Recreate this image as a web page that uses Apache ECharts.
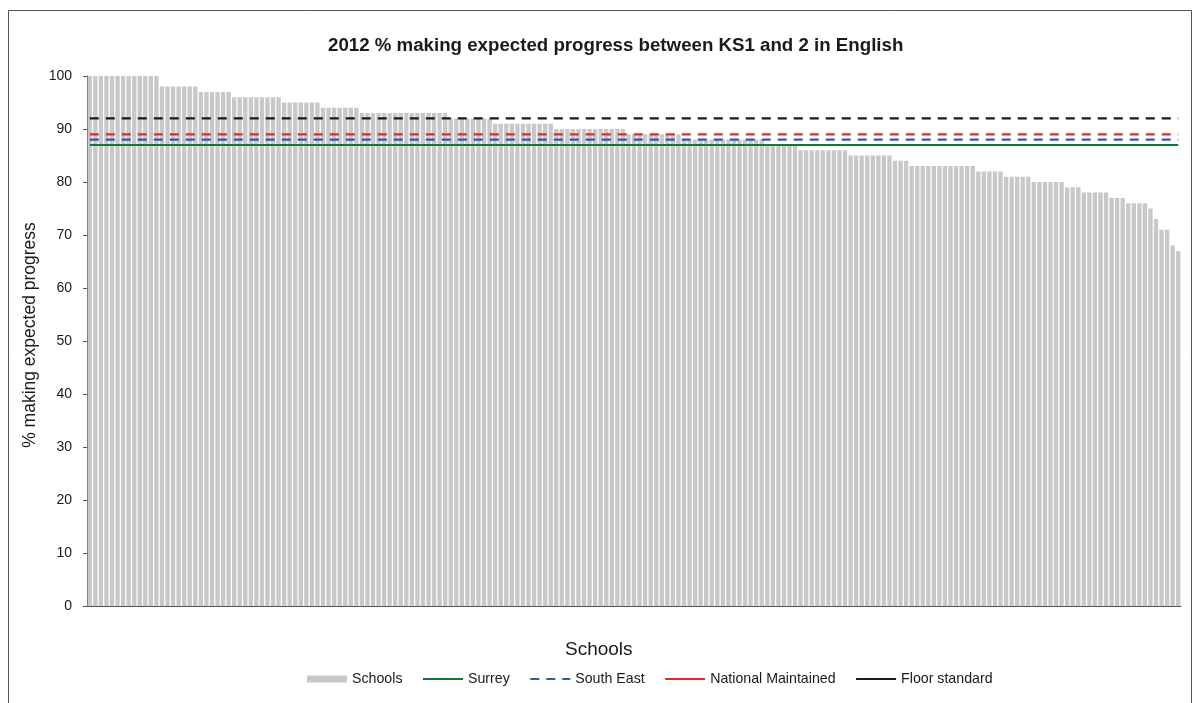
<!DOCTYPE html>
<html>
<head>
<meta charset="utf-8">
<script src="https://cdn.jsdelivr.net/npm/echarts@6/dist/echarts.min.js"></script>
<style>html,body{margin:0;padding:0;background:#fff}#c{width:1198px;height:703px}</style>
</head>
<body>
<div id="c"></div>
<script>
// ---- data ----
const TITLE = '2012 % making expected progress between KS1 and 2 in English';
const Y_NAME = '% making expected progress';
const X_NAME = 'Schools';
const Y_TICKS = [0, 10, 20, 30, 40, 50, 60, 70, 80, 90, 100];
// value of each school, sorted high to low
const schoolValues = [
  100,100,100,100,100,100,100,100,100,100,100,100,100,
  98,98,98,98,98,98,98,
  97,97,97,97,97,97,
  96,96,96,96,96,96,96,96,96,
  95,95,95,95,95,95,95,
  94,94,94,94,94,94,94,
  93,93,93,93,93,93,93,93,93,93,93,93,93,93,93,93,
  92,92,92,92,92,92,92,92,
  91,91,91,91,91,91,91,91,91,91,91,
  90,90,90,90,90,90,90,90,90,90,90,90,90,
  89,89,89,89,89,89,89,89,89,89,
  88,88,88,88,88,88,88,88,88,88,88,88,88,88,88,
  87,87,87,87,87,87,
  86,86,86,86,86,86,86,86,86,
  85,85,85,85,85,85,85,85,
  84,84,84,
  83,83,83,83,83,83,83,83,83,83,83,83,
  82,82,82,82,82,
  81,81,81,81,81,
  80,80,80,80,80,80,
  79,79,79,
  78,78,78,78,78,
  77,77,77,
  76,76,76,76,
  75,
  73,
  71,71,
  68,
  67
];
const categories = schoolValues.map((v, i) => 'School ' + (i + 1));
const SURREY = 87;
const SOUTH_EAST = 88;
const NATIONAL_MAINTAINED = 89;
const FLOOR_STANDARD = 92;
const surreyLine = categories.map(() => SURREY);
const southEastLine = categories.map(() => SOUTH_EAST);
const nationalLine = categories.map(() => NATIONAL_MAINTAINED);
const floorLine = categories.map(() => FLOOR_STANDARD);

// ---- chart ----
const FONT = '"Liberation Sans", Arial, sans-serif';
const chart = echarts.init(document.getElementById('c'), null, {renderer: 'canvas'});
const lineSeries = (name, data, color, type, width) => ({
  name, type: 'line', data, symbol: 'none', silent: true, animation: false,
  lineStyle: {color, width, type: type === 'dashed' ? [9, 7] : 'solid'},
  itemStyle: {color}, z: 3
});
const hiddenSymbol = {opacity: 0};
chart.setOption({
  animation: false,
  backgroundColor: '#fff',
  textStyle: {fontFamily: FONT},
  title: {
    text: TITLE, left: 328, top: 36, padding: 0,
    textStyle: {fontFamily: FONT, fontSize: 18.7, fontWeight: 'bold', color: '#1a1a1a'}
  },
  graphic: [
    {type: 'rect', shape: {x: 8.5, y: 10.5, width: 1183, height: 720},
     style: {fill: 'none', stroke: '#555', lineWidth: 1}, silent: true, z: -1},
    {type: 'text', left: 565, top: 640,
     style: {text: X_NAME, font: '19px ' + FONT, fill: '#1a1a1a'}},
    {type: 'text', x: 30, y: 335, rotation: Math.PI / 2,
     style: {text: Y_NAME, font: '17.5px ' + FONT, fill: '#1a1a1a',
             align: 'center', verticalAlign: 'middle'}}
  ],
  legend: {
    left: 307, top: 672, padding: 0, itemWidth: 40, itemHeight: 7, itemGap: 19.5,
    textStyle: {fontFamily: FONT, fontSize: 14.2, color: '#1a1a1a'},
    data: [
      {name: 'Schools', icon: 'rect'},
      {name: 'Surrey', itemStyle: hiddenSymbol},
      {name: 'South East', itemStyle: hiddenSymbol},
      {name: 'National Maintained', itemStyle: hiddenSymbol, lineStyle: {type: 'solid'}},
      {name: 'Floor standard', itemStyle: hiddenSymbol, lineStyle: {type: 'solid'}}
    ]
  },
  grid: {left: 87, right: 17, top: 76, bottom: 97, containLabel: false},
  xAxis: {
    type: 'category', data: categories,
    axisLine: {show: true, lineStyle: {color: '#555', width: 1}},
    axisTick: {show: false}, axisLabel: {show: false}, splitLine: {show: false}
  },
  yAxis: {
    type: 'value', min: 0, max: 100, interval: 10,
    axisLine: {show: true, lineStyle: {color: '#555', width: 1}},
    axisTick: {show: true, inside: false, length: 4, lineStyle: {color: '#555'}},
    axisLabel: {fontFamily: FONT, fontSize: 14, color: '#1a1a1a', margin: 15},
    splitLine: {show: false}
  },
  series: [
    {name: 'Schools', type: 'bar', data: schoolValues, barCategoryGap: '22%',
     itemStyle: {color: '#c8c8c8'}, silent: true, z: 2},
    lineSeries('Surrey', surreyLine, '#0d7a3a', 'solid', 2),
    lineSeries('South East', southEastLine, '#3557b0', 'dashed', 2.2),
    lineSeries('National Maintained', nationalLine, '#e8262b', 'dashed', 2.2),
    lineSeries('Floor standard', floorLine, '#1a1a1a', 'dashed', 2.2)
  ]
});
</script>
</body>
</html>
